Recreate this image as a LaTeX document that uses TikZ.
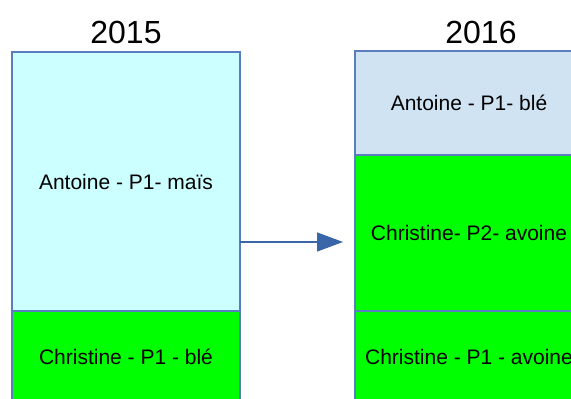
\documentclass[tikz,border=0pt]{standalone}
\usepackage{fontspec}
\setmainfont{Liberation Sans}
\usetikzlibrary{arrows.meta}
\definecolor{bordblue}{HTML}{5A7EBD}
\definecolor{arrblue}{HTML}{3866A8}
\definecolor{cyanfill}{HTML}{CCFFFF}
\definecolor{bluefill}{HTML}{CFE3F3}
\definecolor{greenfill}{HTML}{00FF00}
\begin{document}
\begin{tikzpicture}[x=1pt,y=1pt,
  cell/.style={draw=bordblue,line width=1.3pt,minimum width=228pt,inner sep=0pt,outer sep=0pt,anchor=north west,font=\fontsize{21}{24}\selectfont},
  title/.style={font=\fontsize{32}{36}\selectfont,inner sep=0pt},
  conn/.style={arrblue,line width=1.2pt,-{Triangle[length=26pt,width=19pt]}}]
\useasboundingbox (0,0) rectangle (571,399);
\clip (0,0) rectangle (571,399);
% 2015 column
\node[title] (t15) at (126,367) {2015};
\node[cell,fill=cyanfill,minimum height=259pt] (a15) at (12,347) {Antoine - P1- maïs};
\node[cell,fill=greenfill,minimum height=92pt] (c15) at (a15.south west) {Christine - P1 - blé};
% 2016 column
\node[title] (t16) at (481,367) {2016};
\node[cell,fill=bluefill,minimum height=104pt] (a16) at (355,348) {Antoine - P1- blé};
\node[cell,fill=greenfill,minimum height=156pt] (p16) at (a16.south west) {Christine- P2- avoine};
\node[cell,fill=greenfill,minimum height=92pt] (c16) at (p16.south west) {Christine - P1 - avoine};
% arrow
\coordinate (tip) at (343,157);
\draw[conn] (a15.east |- tip) -- (tip);
\end{tikzpicture}
\end{document}
